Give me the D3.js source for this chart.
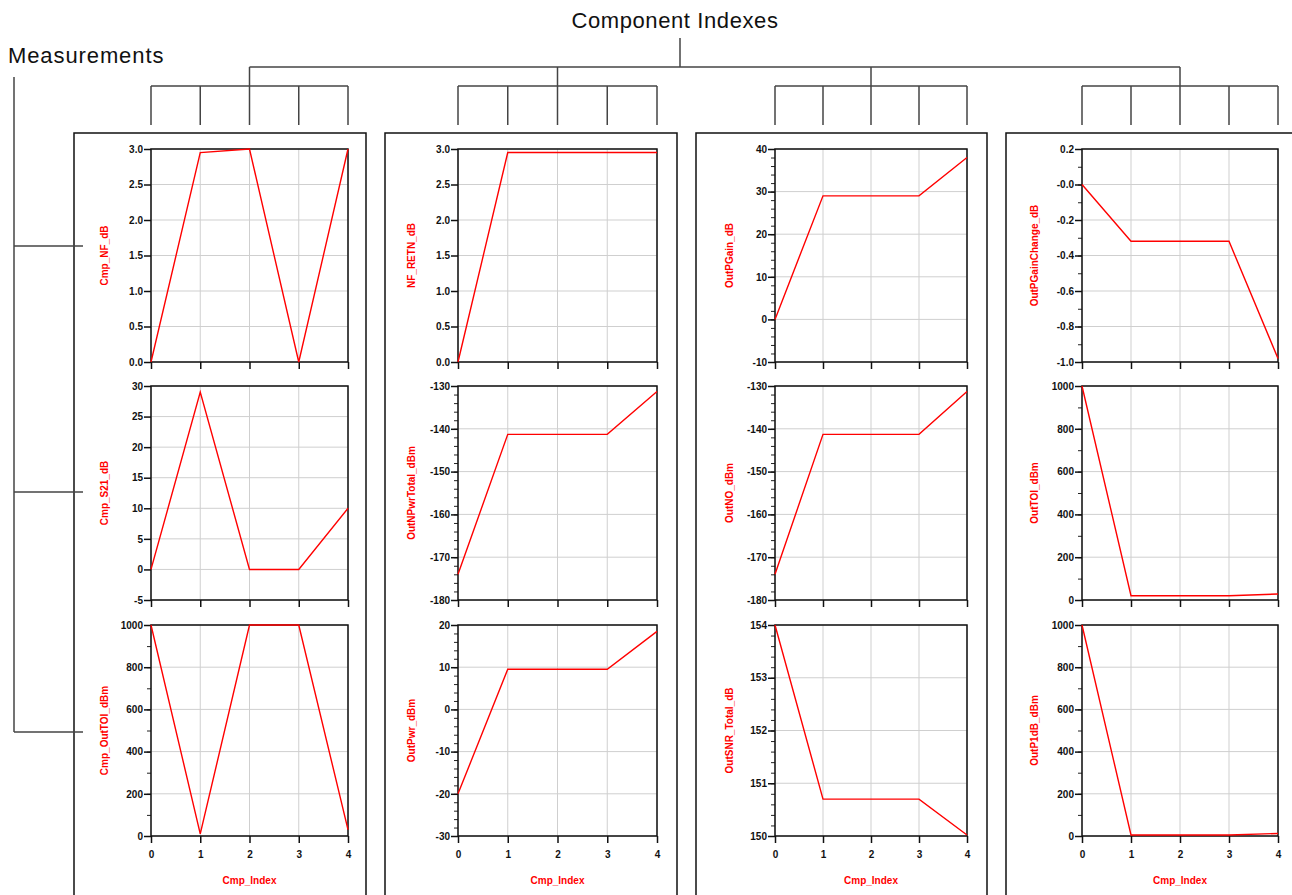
<!DOCTYPE html>
<html>
<head>
<meta charset="utf-8">
<script src="https://cdn.jsdelivr.net/npm/d3@7"></script>
<style>
  body { margin: 0; background: #fff; }
  svg { display: block; font-family: "Liberation Sans", Arial, sans-serif; }
  .tick text { font-size: 10px; font-weight: bold; fill: #111; }
  .grid line { stroke: #cfcfcf; stroke-width: 1; }
</style>
</head>
<body>
<svg width="1292" height="895"></svg>
<script>
// component index on the x axis of every panel
var cmpIndex = [0, 1, 2, 3, 4];

// measurement names, row by row
var yLabels = [
  ["Cmp_NF_dB", "NF_RETN_dB", "OutPGain_dB", "OutPGainChange_dB"],
  ["Cmp_S21_dB", "OutNPwrTotal_dBm", "OutNO_dBm", "OutTOI_dBm"],
  ["Cmp_OutTOI_dBm", "OutPwr_dBm", "OutSNR_Total_dB", "OutP1dB_dBm"]
];

// values
var cmpNF = [0, 2.95, 3.0, 0, 3.0];
var nfRetn = [0, 2.95, 2.95, 2.95, 2.95];
var outPGain = [0, 29, 29, 29, 38];
var outPGainChange = [0, -0.32, -0.32, -0.32, -0.98];
var cmpS21 = [0, 29, 0, 0, 10];
var outNPwrTotal = [-174, -141.3, -141.3, -141.3, -131.3];
var outNO = [-174, -141.3, -141.3, -141.3, -131.3];
var outTOI = [1000, 20, 20, 20, 28];
var cmpOutTOI = [1000, 10, 1000, 1000, 30];
var outPwr = [-20, 9.5, 9.5, 9.5, 18.5];
var outSNR = [154, 150.7, 150.7, 150.7, 150.02];
var outP1dB = [1000, 5, 5, 5, 12];

// y domains, major tick values / labels, minor step (0 = none)
var yDomains = [[0, 3], [0, 3], [-10, 40], [-1, 0.2], [-5, 30], [-180, -130],
  [-180, -130], [0, 1000], [0, 1000], [-30, 20], [150, 154], [0, 1000]];
var yTicks = [
  [0, 0.5, 1, 1.5, 2, 2.5, 3], [0, 0.5, 1, 1.5, 2, 2.5, 3],
  [-10, 0, 10, 20, 30, 40], [-1, -0.8, -0.6, -0.4, -0.2, 0, 0.2],
  [-5, 0, 5, 10, 15, 20, 25, 30], [-180, -170, -160, -150, -140, -130],
  [-180, -170, -160, -150, -140, -130], [0, 200, 400, 600, 800, 1000],
  [0, 200, 400, 600, 800, 1000], [-30, -20, -10, 0, 10, 20],
  [150, 151, 152, 153, 154], [0, 200, 400, 600, 800, 1000]];
var yTickLabels = [
  ["0.0", "0.5", "1.0", "1.5", "2.0", "2.5", "3.0"], ["0.0", "0.5", "1.0", "1.5", "2.0", "2.5", "3.0"],
  ["-10", "0", "10", "20", "30", "40"], ["-1.0", "-0.8", "-0.6", "-0.4", "-0.2", "-0.0", "0.2"],
  ["-5", "0", "5", "10", "15", "20", "25", "30"], ["-180", "-170", "-160", "-150", "-140", "-130"],
  ["-180", "-170", "-160", "-150", "-140", "-130"], ["0", "200", "400", "600", "800", "1000"],
  ["0", "200", "400", "600", "800", "1000"], ["-30", "-20", "-10", "0", "10", "20"],
  ["150", "151", "152", "153", "154"], ["0", "200", "400", "600", "800", "1000"]];
var yMinor = [0, 0, 2, 0.1, 0, 2, 2, 100, 100, 2, 0.2, 100];

var seriesList = [cmpNF, nfRetn, outPGain, outPGainChange, cmpS21, outNPwrTotal,
  outNO, outTOI, cmpOutTOI, outPwr, outSNR, outP1dB];

var svg = d3.select("svg");

// layout
var colX = [[151, 348], [458, 657], [775, 967], [1082, 1278]];
var rowY = [[149, 362], [386, 600], [625, 836]];
var frames = [[74, 366], [385, 677], [696, 987], [1006, 1298]];
var labelOffset = [46, 46, 45, 47];

// column frames
frames.forEach(function (f) {
  svg.append("path")
    .attr("d", "M" + f[0] + ",905V133H" + f[1] + "V905")
    .attr("fill", "none").attr("stroke", "#111").attr("stroke-width", 1.5);
});

var line = function (x1, y1, x2, y2, w) {
  svg.append("line").attr("x1", x1).attr("y1", y1).attr("x2", x2).attr("y2", y2)
    .attr("stroke", "#444").attr("stroke-width", w || 1.5);
};

// top "Component Indexes" bracket
svg.append("text").attr("x", 675).attr("y", 28).attr("text-anchor", "middle")
  .attr("font-size", 22).attr("letter-spacing", 0.6).attr("fill", "#111").text("Component Indexes");
line(680, 38, 680, 67);
colX.forEach(function (c, ci) {
  var x = d3.scaleLinear().domain([0, 4]).range(c);
  if (ci === 0) line(x(2), 67, colX[3][0] + (colX[3][1] - colX[3][0]) / 2, 67);
  line(x(2), 67, x(2), 86);
  line(x(0), 86, x(4), 86);
  cmpIndex.forEach(function (d) { line(x(d), 86, x(d), 125); });
});

// left "Measurements" bracket
svg.append("text").attr("x", 8).attr("y", 63)
  .attr("font-size", 22).attr("letter-spacing", 0.9).attr("fill", "#111").text("Measurements");
line(14, 77, 14, 732);
[246, 492, 732].forEach(function (y) { line(14, y, 83, y); });

// panels
rowY.forEach(function (r, ri) {
  colX.forEach(function (c, ci) {
    var k = ri * 4 + ci;
    var x = d3.scaleLinear().domain([0, 4]).range(c);
    var y = d3.scaleLinear().domain(yDomains[k]).range([r[1], r[0]]);
    var g = svg.append("g");

    // grid
    g.append("g").attr("class", "grid")
      .selectAll("line.v").data(cmpIndex).enter().append("line")
      .attr("x1", x).attr("x2", x).attr("y1", r[0]).attr("y2", r[1]);
    g.append("g").attr("class", "grid")
      .selectAll("line.h").data(yTicks[k]).enter().append("line")
      .attr("x1", c[0]).attr("x2", c[1]).attr("y1", y).attr("y2", y);

    // minor ticks
    if (yMinor[k]) {
      var lo = yDomains[k][0], hi = yDomains[k][1], st = yMinor[k];
      var n = Math.round((hi - lo) / st);
      var minor = d3.range(n + 1).map(function (i) { return lo + i * st; });
      g.append("g").attr("transform", "translate(" + c[0] + ",0)")
        .call(d3.axisLeft(y).tickValues(minor).tickSize(4).tickFormat(""))
        .call(function (a) { a.select(".domain").remove(); a.selectAll("line").attr("stroke", "#222"); });
    }

    // y axis
    g.append("g").attr("transform", "translate(" + c[0] + ",0)")
      .call(d3.axisLeft(y).tickValues(yTicks[k]).tickSize(7).tickPadding(1)
        .tickFormat(function (d, i) { return yTickLabels[k][i]; }))
      .call(function (a) { a.select(".domain").remove(); a.selectAll("line").attr("stroke", "#111").attr("stroke-width", 1.5); });

    // x axis
    g.append("g").attr("transform", "translate(0," + r[1] + ")")
      .call(d3.axisBottom(x).tickValues(cmpIndex).tickSize(7)
        .tickFormat(ri === 2 ? d3.format("d") : ""))
      .call(function (a) {
        a.select(".domain").remove();
        a.selectAll("line").attr("stroke", "#111").attr("stroke-width", 1.5);
        a.selectAll("text").attr("dy", "1.2em");
      });

    // frame
    g.append("rect").attr("x", c[0]).attr("y", r[0])
      .attr("width", c[1] - c[0]).attr("height", r[1] - r[0])
      .attr("fill", "none").attr("stroke", "#111").attr("stroke-width", 1.5);

    // data line
    g.append("path").datum(seriesList[k])
      .attr("fill", "none").attr("stroke", "#ff0000").attr("stroke-width", 1.4)
      .attr("d", d3.line().x(function (d, i) { return x(cmpIndex[i]); }).y(function (d) { return y(d); }));

    // y label
    var lx = c[0] - labelOffset[ci] + 3;
    g.append("text")
      .attr("transform", "translate(" + lx + "," + (r[0] + r[1]) / 2 + ") rotate(-90)")
      .attr("text-anchor", "middle").attr("font-size", 10).attr("font-weight", "bold")
      .attr("fill", "#ff0000").text(yLabels[ri][ci]);

    // x label
    if (ri === 2) {
      g.append("text").attr("x", (c[0] + c[1]) / 2).attr("y", 884)
        .attr("text-anchor", "middle").attr("font-size", 10).attr("font-weight", "bold")
        .attr("fill", "#ff0000").text("Cmp_Index");
    }
  });
});
</script>
</body>
</html>
